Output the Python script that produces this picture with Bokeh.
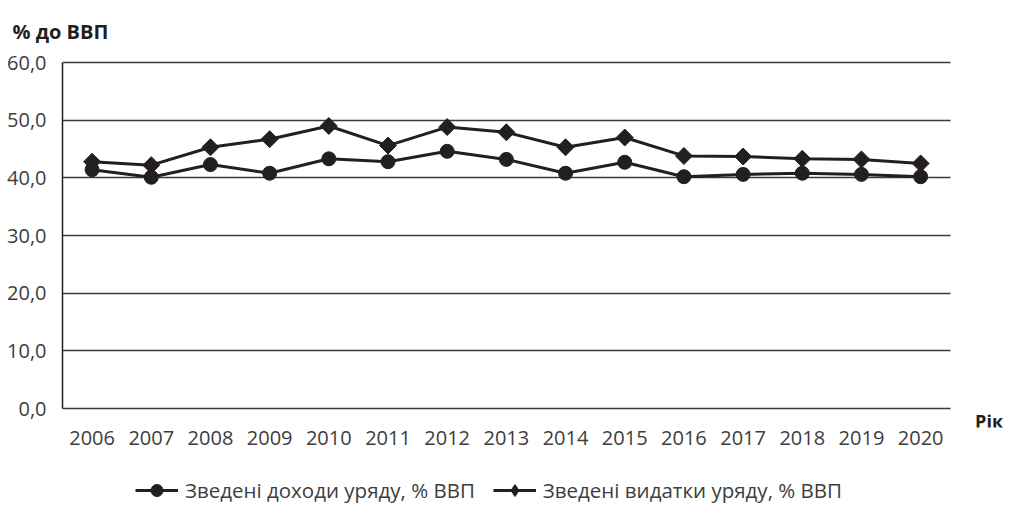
import math
from bokeh.plotting import figure
from bokeh.layouts import column
from bokeh.models import Range1d, FixedTicker, Label, Legend, LegendItem
from bokeh.embed import file_html
from bokeh.resources import INLINE

years = [2006, 2007, 2008, 2009, 2010, 2011, 2012, 2013, 2014, 2015, 2016, 2017, 2018, 2019, 2020]
revenue = [41.4, 40.1, 42.3, 40.8, 43.3, 42.8, 44.6, 43.2, 40.8, 42.7, 40.2, 40.6, 40.8, 40.6, 40.2]
expenditure = [42.8, 42.2, 45.3, 46.7, 49.0, 45.6, 48.8, 47.9, 45.3, 47.0, 43.8, 43.7, 43.3, 43.2, 42.5]
y_ticks = [0, 10, 20, 30, 40, 50, 60]
y_tick_labels = {0: "0,0", 10: "10,0", 20: "20,0", 30: "30,0", 40: "40,0", 50: "50,0", 60: "60,0"}
series_names = ["Зведені доходи уряду, % ВВП", "Зведені видатки уряду, % ВВП"]
y_title = "% до ВВП"
x_title = "Рік"

FONT = "Open Sans"
INK = "#231f20"
GREY = "#3d3d3d"

x0, x1 = years[0] - 0.5, years[-1] + 0.5
y0, y1 = y_ticks[0], y_ticks[-1]

# ---- main chart ----
p = figure(width=1005, height=460, output_backend="svg", toolbar_location=None,
           x_range=Range1d(x0, x1 + 0.9), y_range=Range1d(y0 - 3.29, y1 + 0.35),
           min_border_left=62, min_border_right=2, min_border_top=60, min_border_bottom=33)
p.outline_line_color = None
p.background_fill_color = "white"

p.title.text = y_title
p.title.align = "left"
p.title.offset = -50
p.title.standoff = 31
p.title.text_font = FONT
p.title.text_font_size = "20px"
p.title.text_font_style = "bold"
p.title.text_color = INK

p.xaxis.ticker = FixedTicker(ticks=years)
p.yaxis.ticker = FixedTicker(ticks=y_ticks)
p.yaxis.major_label_overrides = y_tick_labels
for ax in (p.xaxis, p.yaxis):
    ax.major_tick_line_color = None
    ax.minor_tick_line_color = None
    ax.major_label_text_font = FONT
    ax.major_label_text_font_size = "20px"
    ax.major_label_text_color = GREY
p.xaxis.axis_line_color = None
p.xaxis.major_label_standoff = -3
p.yaxis.axis_line_color = INK
p.yaxis.axis_line_width = 1.5
p.yaxis.bounds = (y0, y1)
p.yaxis.major_label_standoff = 10

p.xgrid.grid_line_color = None
p.ygrid.grid_line_color = "#3a3a3a"
p.ygrid.grid_line_width = 1.3
p.ygrid.cross_bounds = (x0, x1)

p.line(years, revenue, line_color=INK, line_width=3)
p.scatter(years, revenue, marker="circle", size=14, fill_color=INK, line_color=INK)
p.line(years, expenditure, line_color=INK, line_width=3)
p.scatter(years, expenditure, marker="square", angle=math.pi / 4, size=12,
          fill_color=INK, line_color=INK)

p.add_layout(Label(x=2020.92, y=-2.2, text=x_title, text_font=FONT, text_font_size="18px",
                   text_font_style="bold", text_color=INK, text_baseline="middle", text_align="left"))

# ---- legend strip (series drawn out of view, only the legend shows) ----
q = figure(width=1005, height=45, output_backend="svg", toolbar_location=None,
           x_range=Range1d(0, 1), y_range=Range1d(0, 1),
           min_border=0, x_axis_location=None, y_axis_location=None)
q.outline_line_color = None
q.xgrid.visible = False
q.ygrid.visible = False
l1 = q.line(years, revenue, line_color=INK, line_width=3)
m1 = q.scatter(years, revenue, marker="circle", size=14, fill_color=INK, line_color=INK)
l2 = q.line(years, expenditure, line_color=INK, line_width=3)
m2 = q.scatter(years, expenditure, marker="diamond", size=14, fill_color=INK, line_color=INK)
legend = Legend(items=[LegendItem(label=series_names[0], renderers=[l1, m1]),
                       LegendItem(label=series_names[1], renderers=[l2, m2])],
                orientation="horizontal", location=(73, 0),
                label_text_font=FONT, label_text_font_size="20.5px", label_text_color=GREY,
                glyph_width=43, glyph_height=30, spacing=18, label_standoff=7,
                border_line_color=None, background_fill_alpha=0, margin=0, padding=0)
q.add_layout(legend, "center")

open("out.html", "w").write(file_html(column(p, q), INLINE))
